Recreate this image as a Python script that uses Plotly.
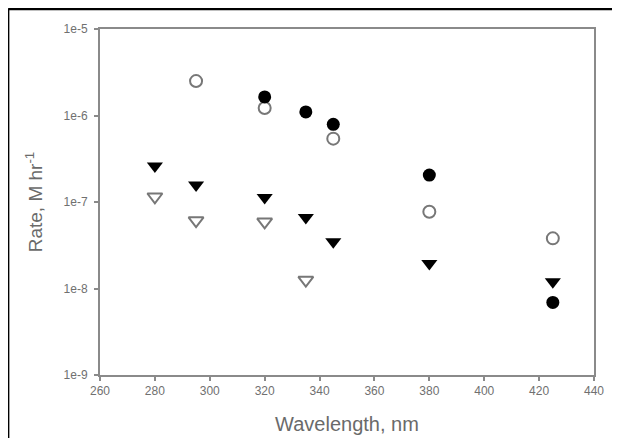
import plotly.graph_objects as go

# Data
x_filled_circle = [320, 335, 345, 380, 425]
y_filled_circle = [1.64e-6, 1.10e-6, 7.9e-7, 2.05e-7, 6.9e-9]

x_open_circle = [295, 320, 345, 380, 425]
y_open_circle = [2.5e-6, 1.22e-6, 5.4e-7, 7.7e-8, 3.8e-8]

x_filled_tri = [280, 295, 320, 335, 345, 380, 425]
y_filled_tri = [2.6e-7, 1.57e-7, 1.13e-7, 6.6e-8, 3.47e-8, 1.95e-8, 1.2e-8]

x_open_tri = [280, 295, 320, 335]
y_open_tri = [1.15e-7, 6.1e-8, 5.9e-8, 1.25e-8]

y_tickvals = [1e-9, 1e-8, 1e-7, 1e-6, 1e-5]
y_ticktext = ["1e-9", "1e-8", "1e-7", "1e-6", "1e-5"]
x_tickvals = [260, 280, 300, 320, 340, 360, 380, 400, 420, 440]

FONT = "Liberation Sans, Arial"

fig = go.Figure()
fig.add_trace(go.Scatter(x=x_open_tri, y=y_open_tri, mode="markers",
                         marker=dict(symbol="triangle-down-open", size=13, color="#777777", line=dict(width=2))))
fig.add_trace(go.Scatter(x=x_filled_tri, y=y_filled_tri, mode="markers",
                         marker=dict(symbol="triangle-down", size=14, color="black")))
fig.add_trace(go.Scatter(x=x_open_circle, y=y_open_circle, mode="markers",
                         marker=dict(symbol="circle", size=12, color="white", line=dict(color="#777777", width=2))))
fig.add_trace(go.Scatter(x=x_filled_circle, y=y_filled_circle, mode="markers",
                         marker=dict(symbol="circle", size=13, color="black")))

axis_common = dict(showgrid=False, zeroline=False, showline=True, linecolor="#8a8a8a", linewidth=2,
                   mirror=True, ticks="outside", ticklen=4, tickcolor="#8a8a8a", tickwidth=1.5,
                   tickfont=dict(family=FONT, size=12, color="#707070"))

fig.update_layout(
    width=620, height=438,
    margin=dict(l=92, r=34, t=21, b=71),
    paper_bgcolor="white", plot_bgcolor="white",
    showlegend=False,
    xaxis=dict(range=[260, 440], tickvals=x_tickvals,
               title=dict(text="Wavelength, nm", font=dict(family=FONT, size=20, color="#6a6a6a"), standoff=20),
               **axis_common),
    yaxis=dict(type="log", range=[-9, -5], tickvals=y_tickvals, ticktext=y_ticktext,
               ticklabelstandoff=4,
               title=dict(text="Rate, M hr<sup>-1</sup>", font=dict(family=FONT, size=19, color="#6a6a6a"), standoff=16),
               **axis_common),
    shapes=[
        dict(type="line", xref="paper", yref="paper", x0=-0.186, x1=1.1, y0=1.058, y1=1.058,
             line=dict(color="black", width=2.5)),
        dict(type="line", xref="paper", yref="paper", x0=-0.186, x1=-0.186, y0=1.058, y1=-0.25,
             line=dict(color="black", width=2.5)),
    ],
)

fig.write_html("out.html")
